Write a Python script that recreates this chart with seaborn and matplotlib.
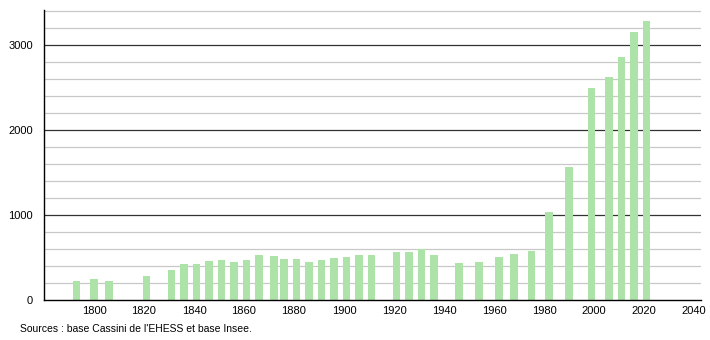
import matplotlib
matplotlib.use("Agg")
import matplotlib.pyplot as plt
import seaborn as sns
import pandas as pd
from matplotlib.ticker import MultipleLocator

years = [1793, 1800, 1806, 1821, 1831, 1836, 1841, 1846, 1851, 1856, 1861, 1866,
         1872, 1876, 1881, 1886, 1891, 1896, 1901, 1906, 1911, 1921, 1926, 1931,
         1936, 1946, 1954, 1962, 1968, 1975, 1982, 1990, 1999, 2006, 2011, 2016, 2021]
population = [225, 245, 225, 280, 353, 427, 427, 459, 475, 447, 470, 525,
              518, 482, 480, 447, 475, 494, 506, 529, 529, 565, 565, 596,
              529, 435, 447, 510, 541, 576, 1031, 1561, 2498, 2627, 2855, 3149, 3286]
x_ticks = [1800, 1820, 1840, 1860, 1880, 1900, 1920, 1940, 1960, 1980, 2000, 2020, 2040]
y_ticks = [0, 1000, 2000, 3000]
source_text = "Sources : base Cassini de l'EHESS et base Insee."

df = pd.DataFrame({"year": years, "pop": population})

sns.set_theme(style="white")
plt.rcParams['font.family'] = ['Liberation Sans', 'DejaVu Sans']

fig = plt.figure(figsize=(7.1, 3.4), dpi=100)
ax = fig.add_axes([44/710, 40/340, (701-44)/710, (300-10)/340])

ax.set_xlim(1780, 2042.8)
ax.set_ylim(0, 3410)

# grid lines
for v in range(200, 3401, 200):
    if v % 1000 == 0:
        ax.axhline(v, color="#333333", lw=0.9, zorder=1)
    else:
        ax.axhline(v, color="#c8c8c8", lw=0.9, zorder=1)

bar_color = "#ade3a8"
ax.bar(df["year"], df["pop"], width=3.0, color=bar_color, edgecolor="none", zorder=2)

ax.set_xticks(x_ticks)
ax.set_xticklabels([str(t) for t in x_ticks])
ax.set_yticks(y_ticks)
ax.set_yticklabels([str(t) for t in y_ticks])
ax.yaxis.set_minor_locator(MultipleLocator(200))
ax.tick_params(axis="x", length=0, labelsize=8, pad=4, colors="#000000")
ax.tick_params(axis="y", which="major", length=5, width=0.9, labelsize=8, pad=3, colors="#000000")
ax.tick_params(axis="y", which="minor", length=3, width=0.8, colors="#000000")

for s in ["top", "right"]:
    ax.spines[s].set_visible(False)
for s in ["left", "bottom"]:
    ax.spines[s].set_color("#000000")
    ax.spines[s].set_linewidth(1.0)
ax.set_xlabel("")
ax.set_ylabel("")

fig.text(20/710, 1 - 329/340, source_text, fontsize=7.5, ha="left", va="center", color="#000000")

fig.savefig("out.png", dpi=100)
